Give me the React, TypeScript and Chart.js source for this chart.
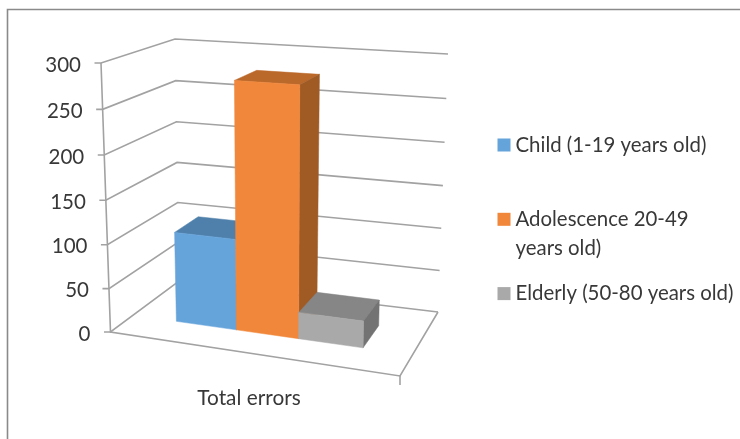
import React, { useEffect, useRef } from "react";
import { Chart, registerables } from "chart.js";

Chart.register(...registerables);

// Chart data
const categories = ["Total errors"];
const seriesNames = ["Child (1-19 years old)", "Adolescence 20-49\nyears old)", "Elderly (50-80 years old)"];
const childValues = [104];
const adolescenceValues = [280];
const elderlyValues = [30];
const frontColors = ["#65a3db", "#f0873a", "#a9a9a9"];
const topColors = ["#4f80ab", "#bb682b", "#868686"];
const sideColors = ["#44709a", "#a05a24", "#737373"];

// The eight corners of the box the chart stands in, on the canvas.
const box = {
  flb: [110.5, 332], flt: [101, 63],
  frb: [400, 376], frt: [406, 83],
  blb: [179, 281], blt: [175, 39],
  brb: [438, 312], brt: [448, 54],
};
const barDepthFront = 0.33;
const barDepthBack = 0.69;
const INK = "#383838";
const GRID = "#a2a2a2";
const FONT = "Lato";

const mix = (a: number[], b: number[], t: number) => [a[0] + (b[0] - a[0]) * t, a[1] + (b[1] - a[1]) * t];

// u runs left to right, v bottom to top, w front to back, each from 0 to 1.
// The small quadratic terms stand in for perspective foreshortening.
function project(u: number, v: number, w: number) {
  const uu = u - 0.08 * u * (1 - u);
  const vv = v - 0.04 * v * (1 - v);
  const front = mix(mix(box.flb, box.frb, uu), mix(box.flt, box.frt, uu), vv);
  const back = mix(mix(box.blb, box.brb, uu), mix(box.blt, box.brt, uu), vv);
  return mix(front, back, w);
}

function polyline(ctx: CanvasRenderingContext2D, pts: number[][]) {
  ctx.beginPath();
  pts.forEach((p, i) => (i ? ctx.lineTo(p[0], p[1]) : ctx.moveTo(p[0], p[1])));
}

function face(ctx: CanvasRenderingContext2D, pts: number[][], color: string) {
  polyline(ctx, pts);
  ctx.closePath();
  ctx.fillStyle = color;
  ctx.strokeStyle = color;
  ctx.lineWidth = 0.5;
  ctx.fill();
  ctx.stroke();
}

const boxPlugin = {
  id: "perspectiveBox",
  beforeDatasetsDraw(chart: any) {
    const { ctx, chartArea: area, scales } = chart;
    const vOf = (value: number) => (area.bottom - scales.y.getPixelForValue(value)) / area.height;

    ctx.save();

    // outer frame, open on the right and at the bottom
    ctx.strokeStyle = "#8a8a8a";
    ctx.lineWidth = 1.6;
    polyline(ctx, [[7.5, 439], [7.5, 9.5], [740, 9.5]]);
    ctx.stroke();

    // gridlines on the side wall and back wall, ticks and value labels
    ctx.strokeStyle = GRID;
    ctx.lineWidth = 1.6;
    ctx.fillStyle = INK;
    ctx.font = `20.5px ${FONT}`;
    ctx.textAlign = "right";
    ctx.textBaseline = "middle";
    scales.y.ticks.forEach((tick: any) => {
      const v = vOf(tick.value);
      const a = project(0, v, 0);
      polyline(ctx, [[a[0] - 6.5, a[1]], a, project(0, v, 1), project(1, v, 1)]);
      ctx.stroke();
      ctx.fillText(String(tick.value), a[0] - 20, a[1] + 2);
    });

    // value axis and floor outline
    polyline(ctx, [project(0, 1, 0), project(0, 0, 0), project(1, 0, 0), project(1, 0, 1)]);
    ctx.stroke();
    const corner = project(1, 0, 0);
    polyline(ctx, [corner, [corner[0], corner[1] + 9]]);
    ctx.stroke();

    // bars, left to right so that each one overlaps the last
    chart.data.datasets.forEach((_: any, i: number) => {
      const bar = chart.getDatasetMeta(i).data[0];
      const u0 = (bar.x - bar.width / 2 - area.left) / area.width;
      const u1 = (bar.x + bar.width / 2 - area.left) / area.width;
      const top = (area.bottom - bar.y) / area.height;
      const w0 = barDepthFront;
      const w1 = barDepthBack;
      face(ctx, [project(u0, top, w0), project(u1, top, w0), project(u1, top, w1), project(u0, top, w1)], topColors[i]);
      face(ctx, [project(u1, 0, w0), project(u1, top, w0), project(u1, top, w1), project(u1, 0, w1)], sideColors[i]);
      face(ctx, [project(u0, 0, w0), project(u1, 0, w0), project(u1, top, w0), project(u0, top, w0)], frontColors[i]);
    });

    // category label under the floor
    ctx.fillStyle = INK;
    ctx.font = `20.8px ${FONT}`;
    ctx.textAlign = "center";
    ctx.fillText(scales.x.getLabels()[0], 249, 398);

    // legend
    ctx.textAlign = "left";
    ctx.font = `20.4px ${FONT}`;
    chart.data.datasets.forEach((ds: any, i: number) => {
      const y = 145 + i * 74.3;
      ctx.fillStyle = ds.backgroundColor;
      ctx.fillRect(497.5, y - 6.5, 13, 13);
      ctx.fillStyle = INK;
      String(ds.label).split("\n").forEach((line, j) => ctx.fillText(line, 515.5, y + j * 29));
    });

    ctx.restore();
    return false;
  },
};

export default function App() {
  const ref = useRef<HTMLCanvasElement>(null);

  useEffect(() => {
    const chart = new Chart(ref.current as HTMLCanvasElement, {
      type: "bar",
      data: {
        labels: categories,
        datasets: [
          { label: seriesNames[0], data: childValues, backgroundColor: frontColors[0] },
          { label: seriesNames[1], data: adolescenceValues, backgroundColor: frontColors[1] },
          { label: seriesNames[2], data: elderlyValues, backgroundColor: frontColors[2] },
        ],
      },
      options: {
        responsive: false,
        animation: false,
        events: [],
        layout: { padding: 0 },
        datasets: { bar: { categoryPercentage: 0.668, barPercentage: 1 } },
        scales: {
          x: { display: false },
          y: { display: false, min: 0, max: 300, ticks: { stepSize: 50 } },
        },
        plugins: { legend: { display: false }, tooltip: { enabled: false } },
      },
      plugins: [boxPlugin],
    } as any);
    return () => chart.destroy();
  }, []);

  return (
    <canvas
      ref={ref}
      width={740}
      height={439}
      style={{ position: "fixed", left: 0, top: 0, width: 740, height: 439, background: "#fff" }}
    />
  );
}
